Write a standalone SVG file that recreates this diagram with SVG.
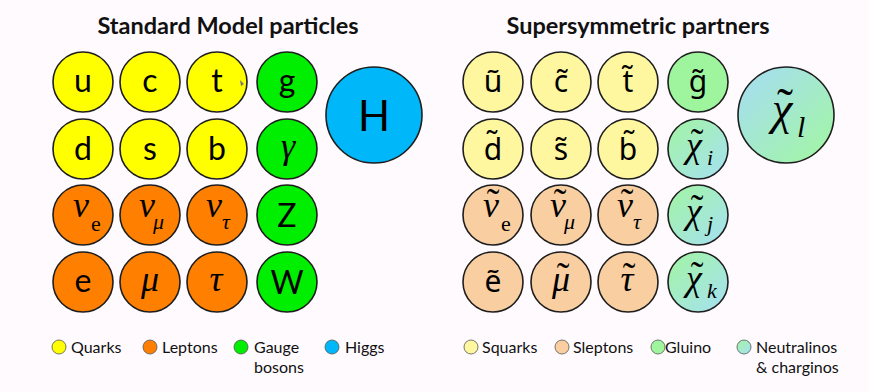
<svg xmlns="http://www.w3.org/2000/svg" width="869" height="392" viewBox="0 0 869 392">
<defs>
<linearGradient id="neu" x1="0" y1="0" x2="1" y2="1">
<stop offset="0" stop-color="#a2f5a2"/>
<stop offset="1" stop-color="#a6e0f4"/>
</linearGradient>
<linearGradient id="neuL" x1="0" y1="0" x2="1" y2="1">
<stop offset="0" stop-color="#a6dcf6"/>
<stop offset="1" stop-color="#a2f7a0"/>
</linearGradient>
<style>
.c{stroke:#1e1e1e;stroke-width:1.6}
.q{fill:#ffff00}.l{fill:#ff8000}.g{fill:#00ee00}.h{fill:#00b7f9}
.sq{fill:#fff7a0}.sl{fill:#f9cfa2}.gl{fill:#9ef59e}.n{fill:url(#neu)}.nl{fill:url(#neuL)}
.t{font-family:Lato,"Noto Sans",sans-serif;font-size:32px;fill:#000;text-anchor:middle}
.tn{font-family:"Noto Sans",Lato,sans-serif;font-size:30px;fill:#000;text-anchor:middle}
.gr{font-family:"Liberation Serif","DejaVu Serif",serif;font-style:italic;font-size:36px;fill:#000;text-anchor:middle}
.tl{font-family:"Liberation Serif","DejaVu Serif",serif;font-style:normal;font-size:38px;fill:#000}
.sub{font-family:"Liberation Serif","DejaVu Serif",serif;font-style:normal;font-size:22px;fill:#000}
.subi{font-family:"Liberation Serif","DejaVu Serif",serif;font-style:italic;font-size:22px;fill:#000}
.title{font-family:Lato,"Noto Sans",sans-serif;font-weight:bold;font-size:23.5px;fill:#111;text-anchor:middle}
.lg{font-family:Lato,"Noto Sans",sans-serif;font-size:16px;fill:#111}
.lc{stroke:#555;stroke-width:0.8}
</style>
</defs>
<rect width="869" height="392" fill="#fefafe"/>
<text class="title" x="228" y="34">Standard Model particles</text>
<text class="title" x="638" y="34">Supersymmetric partners</text>

<g id="u"><circle class="c q" cx="83" cy="82" r="30"/><text class="t" x="83" y="92">u</text></g>
<g id="c"><circle class="c q" cx="150" cy="82" r="30"/><text class="t" x="150" y="92">c</text></g>
<g id="t"><circle class="c q" cx="217" cy="82" r="30"/><text class="t" x="217" y="92">t</text><path d="M240 80 L244 84 L241 86 Z" fill="#777"/></g>
<g id="g"><circle class="c g" cx="287" cy="82" r="30"/><text class="t" x="287" y="92">g</text></g>
<g id="d"><circle class="c q" cx="83" cy="149" r="30"/><text class="t" x="83" y="160">d</text></g>
<g id="s"><circle class="c q" cx="150" cy="149" r="30"/><text class="t" x="150" y="160">s</text></g>
<g id="b"><circle class="c q" cx="217" cy="149" r="30"/><text class="t" x="217" y="160">b</text></g>
<g id="gamma"><circle class="c g" cx="287" cy="149" r="30"/><text class="gr" x="288" y="158">γ</text></g>
<g id="nue"><circle class="c l" cx="83" cy="215" r="30"/><text class="gr" x="81" y="217">ν<tspan class="sub" x="91" y="231" text-anchor="start">e</tspan></text></g>
<g id="numu"><circle class="c l" cx="150" cy="215" r="30"/><text class="gr" x="147" y="217">ν<tspan class="subi" x="153" y="229" text-anchor="start">μ</tspan></text></g>
<g id="nutau"><circle class="c l" cx="217" cy="215" r="30"/><text class="gr" x="214" y="217">ν<tspan class="subi" x="222" y="229" text-anchor="start">τ</tspan></text></g>
<g id="Z"><circle class="c g" cx="287" cy="215" r="30"/><text class="t" x="287" y="227">Z</text></g>
<g id="e"><circle class="c l" cx="83" cy="282" r="30"/><text class="t" x="83" y="292">e</text></g>
<g id="mu"><circle class="c l" cx="150" cy="282" r="30"/><text class="gr" x="150" y="291">μ</text></g>
<g id="tau"><circle class="c l" cx="217" cy="282" r="30"/><text class="gr" x="216" y="291">τ</text></g>
<g id="W"><circle class="c g" cx="287" cy="282" r="30"/><text class="t" x="287" y="294">W</text></g>
<g id="H"><circle class="c h" cx="374" cy="115" r="48"/><text class="t" x="374" y="131" style="font-size:42px">H</text></g>

<g id="su"><circle class="c sq" cx="493" cy="82" r="30"/><text class="tn" x="493" y="92">ũ</text></g>
<g id="sc"><circle class="c sq" cx="561" cy="82" r="30"/><text class="tn" x="561" y="92">c̃</text></g>
<g id="st"><circle class="c sq" cx="628" cy="82" r="30"/><text class="tn" x="628" y="92">t̃</text></g>
<g id="sg"><circle class="c gl" cx="698" cy="82" r="30"/><text class="tn" x="698" y="92">g̃</text></g>
<g id="sd"><circle class="c sq" cx="493" cy="149" r="30"/><text class="tn" x="493" y="160">d̃</text></g>
<g id="ss"><circle class="c sq" cx="561" cy="149" r="30"/><text class="tn" x="561" y="160">s̃</text></g>
<g id="sb"><circle class="c sq" cx="628" cy="149" r="30"/><text class="tn" x="628" y="160">b̃</text></g>
<g id="chii"><circle class="c n" cx="698" cy="149" r="30"/><text class="gr" x="694" y="157">χ<tspan class="tl" x="697" y="155">˜</tspan><tspan class="subi" x="707" y="165" text-anchor="start">i</tspan></text></g>
<g id="snue"><circle class="c sl" cx="493" cy="215" r="30"/><text class="gr" x="491" y="217">ν<tspan class="tl" x="493" y="215">˜</tspan><tspan class="sub" x="501" y="231" text-anchor="start">e</tspan></text></g>
<g id="snumu"><circle class="c sl" cx="561" cy="215" r="30"/><text class="gr" x="558" y="217">ν<tspan class="tl" x="560" y="215">˜</tspan><tspan class="subi" x="564" y="229" text-anchor="start">μ</tspan></text></g>
<g id="snutau"><circle class="c sl" cx="628" cy="215" r="30"/><text class="gr" x="625" y="217">ν<tspan class="tl" x="627" y="215">˜</tspan><tspan class="subi" x="633" y="229" text-anchor="start">τ</tspan></text></g>
<g id="chij"><circle class="c n" cx="698" cy="215" r="30"/><text class="gr" x="694" y="223">χ<tspan class="tl" x="697" y="221">˜</tspan><tspan class="subi" x="707" y="231" text-anchor="start">j</tspan></text></g>
<g id="se"><circle class="c sl" cx="493" cy="282" r="30"/><text class="tn" x="493" y="292">ẽ</text></g>
<g id="smu"><circle class="c sl" cx="561" cy="282" r="30"/><text class="gr" x="561" y="291">μ<tspan class="tl" x="563" y="289">˜</tspan></text></g>
<g id="stau"><circle class="c sl" cx="628" cy="282" r="30"/><text class="gr" x="627" y="291">τ<tspan class="tl" x="629" y="289">˜</tspan></text></g>
<g id="chik"><circle class="c n" cx="698" cy="282" r="30"/><text class="gr" x="694" y="290">χ<tspan class="tl" x="697" y="288">˜</tspan><tspan class="subi" x="707" y="298" text-anchor="start">k</tspan></text></g>
<g id="chil"><circle class="c nl" cx="786" cy="115" r="48"/><text class="gr" x="782" y="124" style="font-size:46px">χ<tspan class="tl" x="785" y="122" style="font-size:48px">˜</tspan><tspan class="subi" x="797" y="137" style="font-size:30px" text-anchor="start">l</tspan></text></g>

<g id="legend-left">
<circle class="lc q" cx="59" cy="347" r="7"/><text class="lg" x="71" y="353">Quarks</text>
<circle class="lc l" cx="150" cy="347" r="7"/><text class="lg" x="162" y="353">Leptons</text>
<circle class="lc g" cx="241" cy="347" r="7"/><text class="lg" x="254" y="353">Gauge</text><text class="lg" x="254" y="373">bosons</text>
<circle class="lc h" cx="332" cy="347" r="7"/><text class="lg" x="345" y="353">Higgs</text>
</g>
<g id="legend-right">
<circle class="lc sq" cx="471" cy="347" r="7"/><text class="lg" x="482" y="353">Squarks</text>
<circle class="lc sl" cx="562" cy="347" r="7"/><text class="lg" x="573" y="353">Sleptons</text>
<circle class="lc gl" cx="658" cy="347" r="7"/><text class="lg" x="665" y="353">Gluino</text>
<circle class="lc n" cx="744" cy="347" r="7"/><text class="lg" x="756" y="353">Neutralinos</text><text class="lg" x="756" y="373">&amp; charginos</text>
</g>
</svg>
